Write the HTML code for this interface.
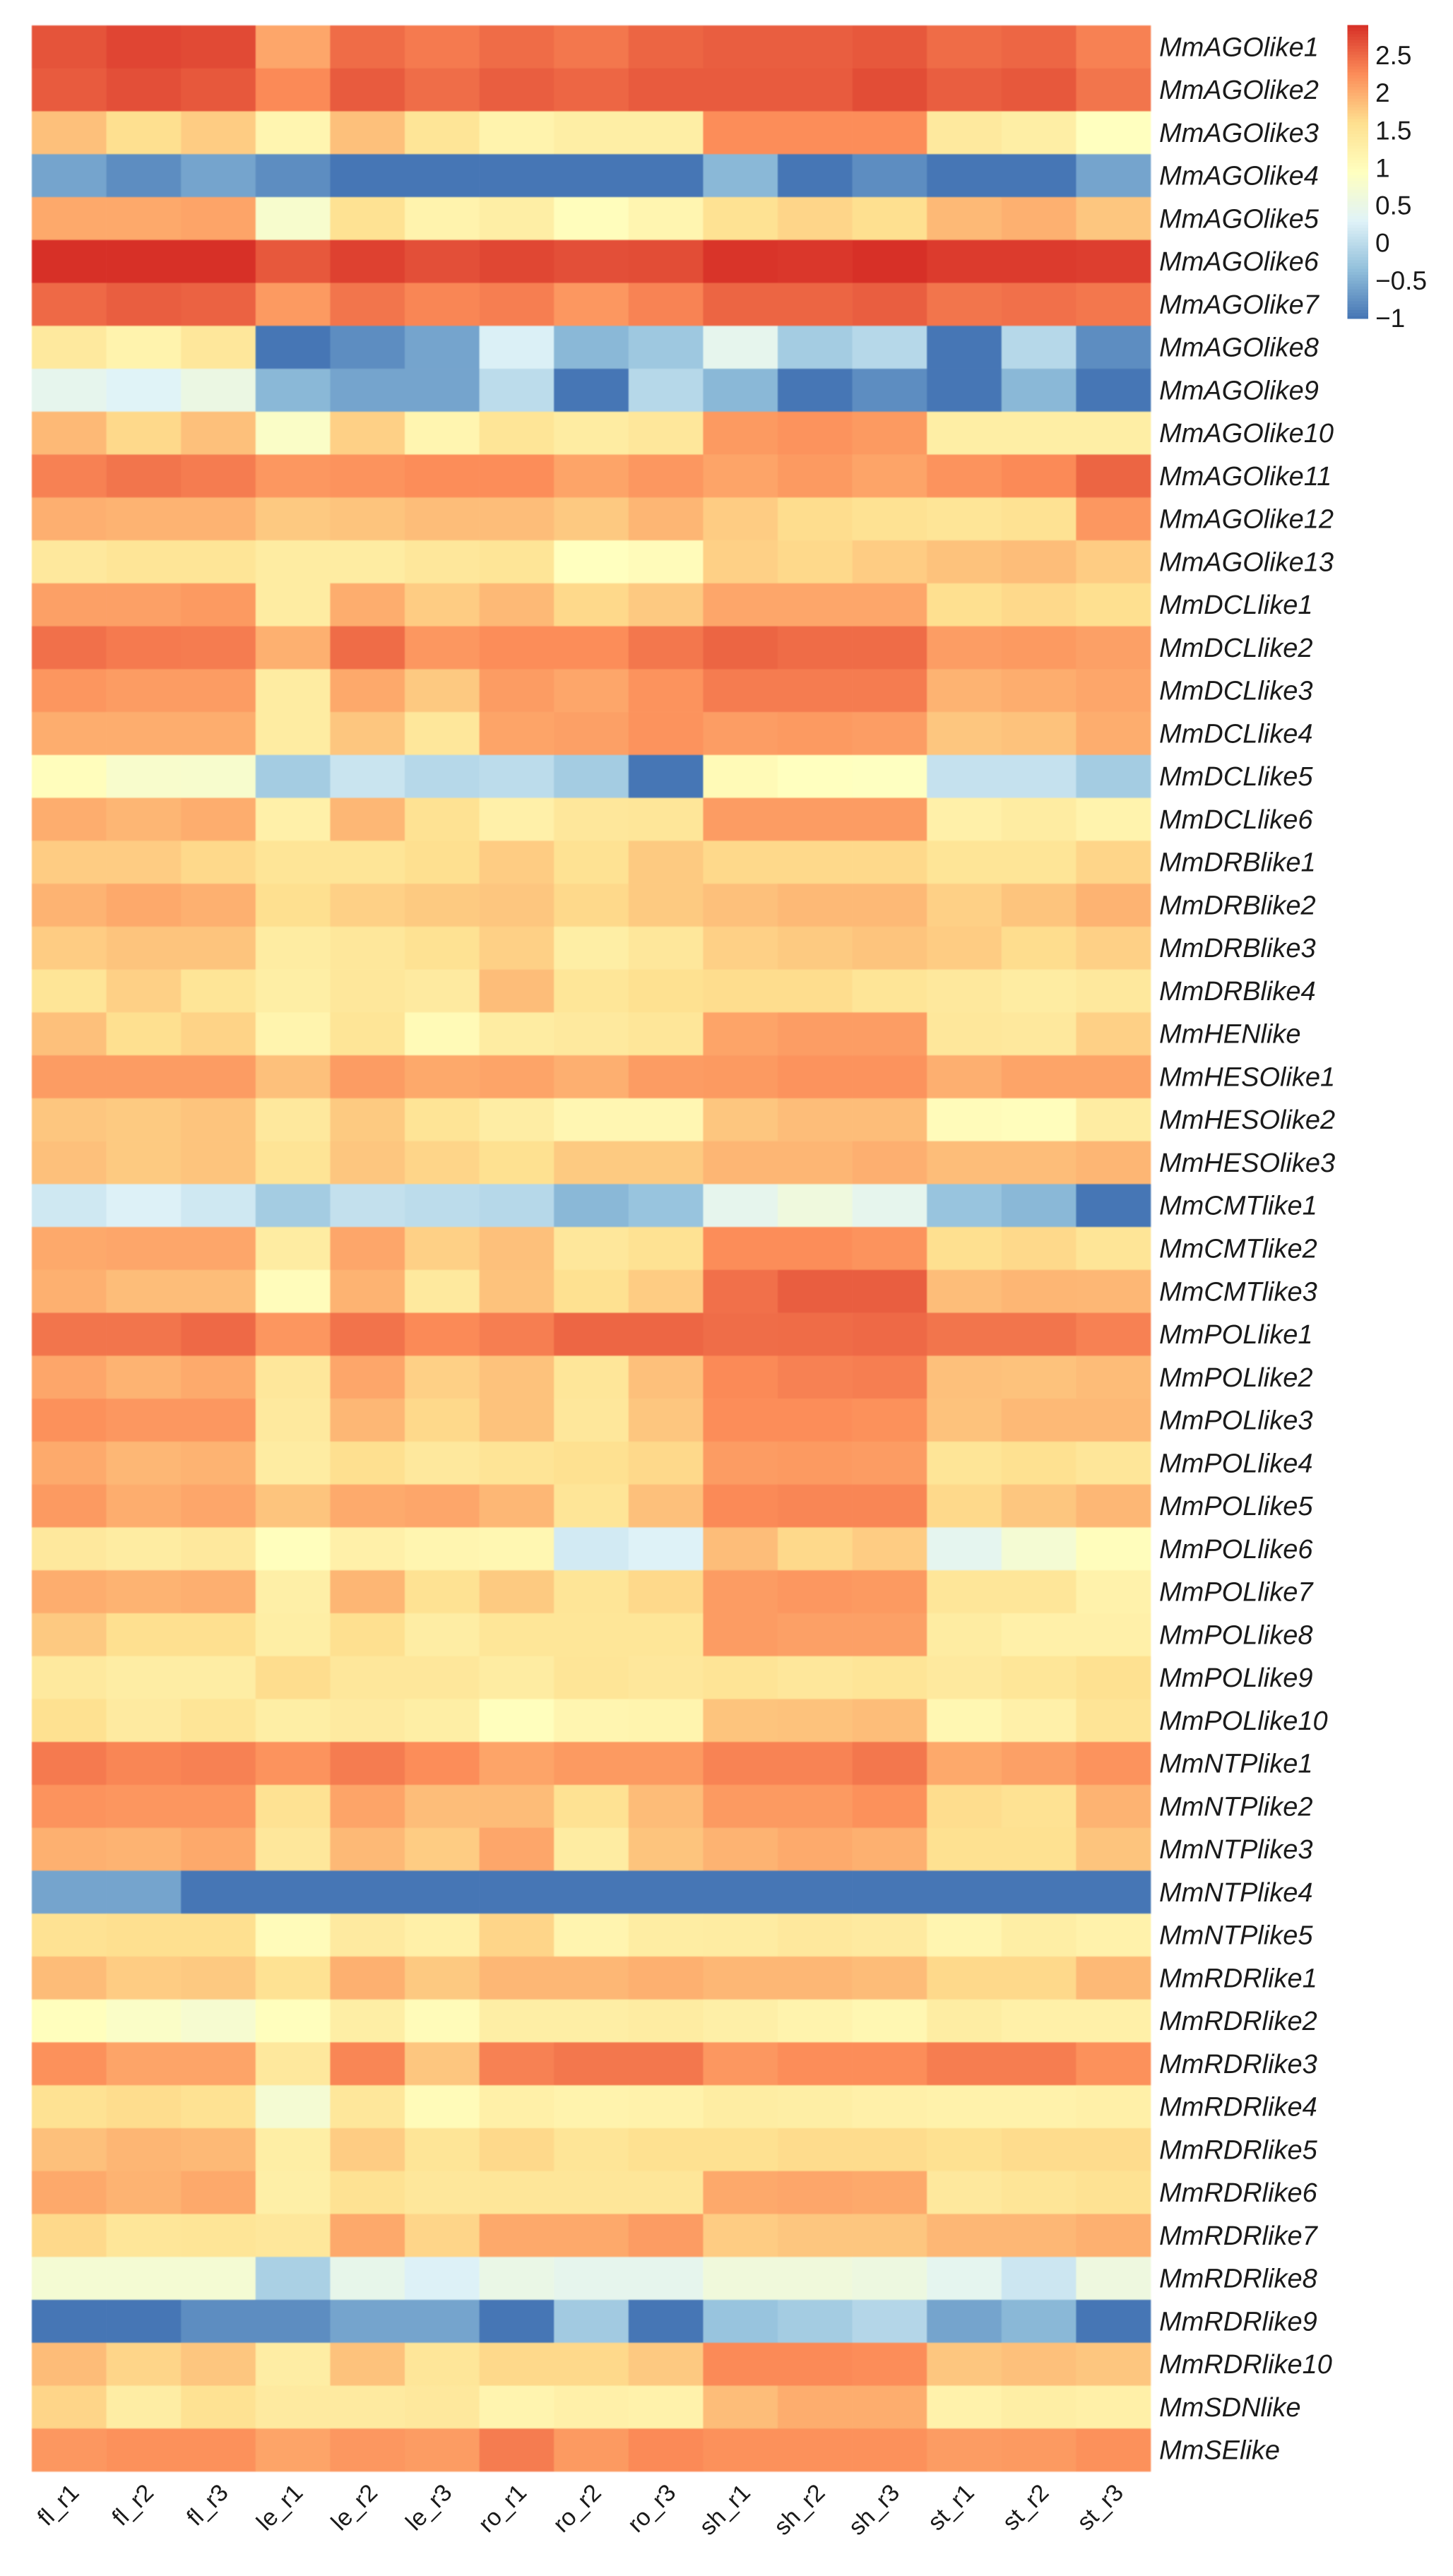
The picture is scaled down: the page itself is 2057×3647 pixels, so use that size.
<!DOCTYPE html>
<html lang="en">
<head>
<meta charset="utf-8">
<title>MmRNAi gene expression heatmap</title>
<style>
html,body{margin:0;padding:0;background:#fff;width:2057px;height:3647px;overflow:hidden}
svg{display:block}
text{font-family:"Liberation Sans",Arial,sans-serif;fill:#1a1a1a}
</style>
</head>
<body>
<svg id="chart" xmlns="http://www.w3.org/2000/svg" width="2057" height="3647" viewBox="0 0 2057 3647">
<rect width="2057" height="3647" fill="#fff"/>
<g id="cells" style="filter:blur(0.7px)"></g>
<g id="rowLabelsG"></g>
<g id="colLabelsG"></g>
<g id="legendG"></g>
</svg>
<script>
const columnLabels = ["fl_r1","fl_r2","fl_r3","le_r1","le_r2","le_r3","ro_r1","ro_r2","ro_r3","sh_r1","sh_r2","sh_r3","st_r1","st_r2","st_r3"];
const rowLabels = ["MmAGOlike1","MmAGOlike2","MmAGOlike3","MmAGOlike4","MmAGOlike5","MmAGOlike6","MmAGOlike7","MmAGOlike8","MmAGOlike9","MmAGOlike10","MmAGOlike11","MmAGOlike12","MmAGOlike13","MmDCLlike1","MmDCLlike2","MmDCLlike3","MmDCLlike4","MmDCLlike5","MmDCLlike6","MmDRBlike1","MmDRBlike2","MmDRBlike3","MmDRBlike4","MmHENlike","MmHESOlike1","MmHESOlike2","MmHESOlike3","MmCMTlike1","MmCMTlike2","MmCMTlike3","MmPOLlike1","MmPOLlike2","MmPOLlike3","MmPOLlike4","MmPOLlike5","MmPOLlike6","MmPOLlike7","MmPOLlike8","MmPOLlike9","MmPOLlike10","MmNTPlike1","MmNTPlike2","MmNTPlike3","MmNTPlike4","MmNTPlike5","MmRDRlike1","MmRDRlike2","MmRDRlike3","MmRDRlike4","MmRDRlike5","MmRDRlike6","MmRDRlike7","MmRDRlike8","MmRDRlike9","MmRDRlike10","MmSDNlike","MmSElike"];
const legendTicks = [2.5,2,1.5,1,0.5,0,-0.5,-1];
const legendTickLabels = ["2.5","2","1.5","1","0.5","0","\u22120.5","\u22121"];
const legendMin = -1.01;
const legendMax = 2.9;
const paletteStops = ["#4575B4","#91BFDB","#E0F3F8","#FFFFBF","#FEE090","#FC8D59","#D73027"];

const valuesAGO = [
[2.65,2.75,2.72,2.05,2.48,2.38,2.48,2.4,2.53,2.58,2.58,2.62,2.48,2.52,2.33],
[2.6,2.68,2.62,2.27,2.6,2.47,2.58,2.52,2.6,2.6,2.6,2.7,2.58,2.62,2.42],
[1.85,1.6,1.75,1.15,1.85,1.5,1.2,1.3,1.3,2.25,2.25,2.25,1.4,1.3,0.95],
[-0.6,-0.8,-0.6,-0.8,-1,-1,-1,-1,-1,-0.42,-1,-0.8,-1,-1,-0.6],
[2.03,2.03,2.07,0.78,1.55,1.2,1.3,0.98,1.15,1.55,1.68,1.6,1.9,1.97,1.8],
[2.9,2.9,2.9,2.62,2.78,2.68,2.74,2.68,2.7,2.87,2.85,2.9,2.82,2.82,2.8],
[2.5,2.58,2.55,2.15,2.42,2.3,2.35,2.17,2.32,2.53,2.53,2.58,2.42,2.45,2.4],
[1.4,1.2,1.45,-1,-0.8,-0.6,0.25,-0.42,-0.25,0.42,-0.2,-0.05,-1,-0.05,-0.8],
[0.42,0.3,0.53,-0.42,-0.6,-0.6,0,-1,-0.05,-0.42,-1,-0.8,-1,-0.42,-1],
[1.9,1.65,1.85,0.85,1.72,1.15,1.5,1.35,1.45,2.15,2.2,2.15,1.3,1.3,1.3],
[2.33,2.42,2.37,2.17,2.2,2.25,2.25,2.07,2.17,2.07,2.15,2.07,2.2,2.27,2.53],
[1.98,1.95,1.95,1.78,1.82,1.87,1.87,1.78,1.93,1.75,1.62,1.55,1.5,1.55,2.17],
[1.42,1.5,1.5,1.35,1.35,1.45,1.5,0.95,1.02,1.72,1.65,1.75,1.83,1.87,1.75]
];
const valuesDCL = [
[2.1,2.1,2.15,1.35,2,1.75,1.9,1.65,1.78,2.05,2.05,2.05,1.6,1.65,1.6],
[2.45,2.38,2.37,1.97,2.48,2.17,2.25,2.25,2.4,2.53,2.48,2.48,2.12,2.15,2.1],
[2.18,2.13,2.13,1.35,2.03,1.78,2.13,2.05,2.2,2.37,2.37,2.37,1.95,2,2.05],
[2,2,2,1.35,1.8,1.45,2.07,2.1,2.2,2.12,2.15,2.12,1.8,1.83,2],
[0.98,0.8,0.78,-0.2,0.1,-0.05,0,-0.2,-1,1.05,0.95,0.92,0.07,0.07,-0.2],
[2,1.93,2,1.25,1.92,1.55,1.25,1.45,1.47,2.13,2.13,2.13,1.25,1.35,1.2]
];
const valuesDRB = [
[1.75,1.75,1.65,1.5,1.5,1.6,1.75,1.55,1.77,1.65,1.65,1.65,1.5,1.5,1.68],
[1.95,2.03,1.97,1.6,1.72,1.77,1.8,1.65,1.77,1.85,1.9,1.9,1.72,1.82,1.95],
[1.75,1.82,1.82,1.35,1.45,1.55,1.72,1.3,1.45,1.72,1.77,1.82,1.75,1.62,1.72],
[1.5,1.72,1.5,1.3,1.45,1.38,1.87,1.48,1.58,1.62,1.62,1.5,1.42,1.35,1.42]
];
const valuesHEN = [
[1.85,1.6,1.7,1.18,1.5,1.05,1.35,1.4,1.47,2.07,2.12,2.12,1.45,1.42,1.72]
];
const valuesHESO = [
[2.13,2.13,2.13,1.85,2.13,2.03,2.07,1.98,2.13,2.15,2.2,2.2,1.98,2.07,2.07],
[1.8,1.77,1.82,1.42,1.77,1.52,1.32,1.13,1.13,1.8,1.87,1.87,1.02,0.98,1.35],
[1.85,1.77,1.82,1.52,1.8,1.68,1.58,1.77,1.77,1.93,1.93,1.98,1.87,1.87,1.93]
];
const valuesCMT = [
[0.15,0.27,0.15,-0.2,0.05,0,-0.05,-0.42,-0.3,0.42,0.6,0.42,-0.3,-0.42,-1],
[2.03,2.05,2.05,1.35,2.05,1.72,1.85,1.45,1.55,2.25,2.25,2.2,1.6,1.65,1.5],
[1.97,1.87,1.87,1,1.95,1.4,1.83,1.58,1.75,2.45,2.58,2.58,1.87,1.93,1.92]
];
const valuesPOL = [
[2.42,2.42,2.5,2.18,2.43,2.27,2.35,2.52,2.52,2.47,2.48,2.5,2.42,2.42,2.33],
[2.05,1.95,2.02,1.45,2.05,1.72,1.83,1.47,1.85,2.27,2.33,2.35,1.85,1.83,1.88],
[2.22,2.17,2.17,1.4,1.92,1.65,1.83,1.45,1.8,2.25,2.25,2.22,1.83,1.9,1.9],
[2.02,1.92,1.95,1.35,1.6,1.42,1.52,1.58,1.65,2.13,2.15,2.13,1.5,1.58,1.47],
[2.15,2,2.05,1.82,2.02,2.05,1.92,1.5,1.85,2.27,2.3,2.3,1.65,1.8,1.92],
[1.42,1.35,1.42,0.97,1.25,1.15,1.12,0.18,0.28,1.87,1.65,1.75,0.4,0.72,0.98],
[2,1.95,1.98,1.28,1.93,1.55,1.77,1.5,1.65,2.13,2.17,2.15,1.47,1.47,1.22],
[1.78,1.6,1.6,1.3,1.6,1.32,1.48,1.48,1.48,2.13,2.1,2.1,1.35,1.25,1.25],
[1.4,1.32,1.32,1.62,1.45,1.45,1.35,1.5,1.45,1.52,1.45,1.5,1.4,1.48,1.58],
[1.58,1.38,1.5,1.3,1.38,1.3,0.97,1.15,1.18,1.82,1.83,1.87,1.12,1.25,1.52]
];
const valuesNTP = [
[2.38,2.3,2.33,2.2,2.37,2.25,2.07,2.15,2.15,2.32,2.32,2.4,2.03,2.1,2.2],
[2.2,2.18,2.18,1.55,2.07,1.87,1.88,1.55,1.88,2.15,2.15,2.22,1.62,1.55,1.95],
[1.97,1.95,2.03,1.45,1.9,1.75,2.05,1.35,1.82,1.95,2.02,1.97,1.58,1.58,1.82],
[-0.6,-0.6,-1,-1,-1,-1,-1,-1,-1,-1,-1,-1,-1,-1,-1],
[1.55,1.6,1.6,1.02,1.38,1.27,1.68,1.17,1.33,1.35,1.42,1.38,1.15,1.3,1.22]
];
const valuesRDR = [
[1.88,1.75,1.78,1.55,1.97,1.78,1.92,1.92,1.97,1.92,1.92,1.88,1.65,1.65,1.9],
[0.97,0.85,0.75,0.97,1.3,1.03,1.3,1.3,1.35,1.28,1.2,1.12,1.33,1.27,1.27],
[2.22,2.07,2.07,1.42,2.3,1.8,2.33,2.4,2.4,2.17,2.25,2.25,2.36,2.36,2.22],
[1.55,1.62,1.55,0.72,1.45,1.03,1.27,1.2,1.22,1.33,1.3,1.25,1.22,1.22,1.27],
[1.85,1.93,1.9,1.3,1.75,1.5,1.65,1.5,1.58,1.58,1.63,1.63,1.58,1.63,1.63],
[2.03,1.95,2.03,1.28,1.55,1.45,1.47,1.47,1.47,2.03,2.05,2.03,1.42,1.5,1.55],
[1.65,1.47,1.5,1.45,2.03,1.68,2.03,2.03,2.13,1.75,1.8,1.8,1.92,1.92,1.97],
[0.72,0.72,0.72,-0.15,0.45,0.27,0.5,0.42,0.42,0.62,0.62,0.57,0.4,0.13,0.58],
[-1,-1,-0.8,-0.8,-0.6,-0.6,-1,-0.22,-1,-0.3,-0.2,-0.07,-0.6,-0.42,-1],
[1.88,1.68,1.8,1.32,1.83,1.47,1.65,1.65,1.78,2.27,2.27,2.25,1.8,1.85,1.8]
];
const valuesSDN = [
[1.68,1.32,1.55,1.38,1.38,1.42,1.17,1.25,1.22,1.87,2,2,1.22,1.3,1.27]
];
const valuesSE = [
[2.17,2.22,2.22,2.07,2.17,2.13,2.37,2.15,2.27,2.22,2.22,2.22,2.13,2.15,2.22]
];
const heatValues = [].concat(valuesAGO,valuesDCL,valuesDRB,valuesHEN,valuesHESO,valuesCMT,valuesPOL,valuesNTP,valuesRDR,valuesSDN,valuesSE);

const NS = "http://www.w3.org/2000/svg";
const plotLeft = 45, plotRight = 1629, plotTop = 36, plotBottom = 3499;
const legendLeft = 1907.5, legendRight = 1937, legendTop = 36;
const xScale = i => plotLeft + i * (plotRight - plotLeft) / columnLabels.length;
const yScale = i => plotTop + i * (plotBottom - plotTop) / rowLabels.length;
const legendY = v => 450 - (v + 1) * 106.3;

function hexToRgb(h){ return [1,3,5].map(k => parseInt(h.substr(k,2),16)); }
function colorFor(v){
  const t = Math.max(0, Math.min(1, (v - legendMin) / (legendMax - legendMin))) * (paletteStops.length - 1);
  const i = Math.min(paletteStops.length - 2, Math.floor(t));
  const a = hexToRgb(paletteStops[i]), b = hexToRgb(paletteStops[i + 1]), f = t - i;
  const c = a.map((x, k) => Math.round(x + (b[k] - x) * f));
  return "rgb(" + c.join(",") + ")";
}
function make(tag, attrs, parent){
  const el = document.createElementNS(NS, tag);
  for (const k in attrs) el.setAttribute(k, attrs[k]);
  parent.appendChild(el);
  return el;
}

const cellsG = document.getElementById("cells");
const rowG = document.getElementById("rowLabelsG");
const colG = document.getElementById("colLabelsG");
const legG = document.getElementById("legendG");

heatValues.forEach((row, r) => {
  row.forEach((v, c) => {
    const cell = make("rect", {x: xScale(c), y: yScale(r), width: xScale(c + 1) - xScale(c) + 0.3, height: yScale(r + 1) - yScale(r) + 0.3, fill: colorFor(v)}, cellsG);
    
    
  });
});

rowLabels.forEach((name, r) => {
  const t = make("text", {x: 1641, y: (yScale(r) + yScale(r + 1)) / 2 + 13, "font-size": 38, "font-style": "italic"}, rowG);
  t.textContent = name;
  
  
});

columnLabels.forEach((name, c) => {
  const ex = (xScale(c) + xScale(c + 1)) / 2 + 16, ey = 3531;
  const t = make("text", {x: ex, y: ey, "font-size": 34, "text-anchor": "end", transform: "rotate(-45 " + ex + " " + ey + ")"}, colG);
  t.textContent = name;
  
  
});

const legendSteps = 100;
for (let i = 0; i < legendSteps; i++) {
  const v = legendMin + (legendMax - legendMin) * (i + 0.5) / legendSteps;
  const y0 = legendY(legendMin + (legendMax - legendMin) * (i + 1) / legendSteps);
  const y1 = legendY(legendMin + (legendMax - legendMin) * i / legendSteps);
  const s = make("rect", {x: legendLeft, y: y0, width: legendRight - legendLeft, height: y1 - y0 + 0.4, fill: colorFor(v)}, legG);
  
  
}
legendTicks.forEach((v, i) => {
  const t = make("text", {x: 1947, y: legendY(v) + 13, "font-size": 37}, legG);
  t.textContent = legendTickLabels[i];
  
  
});
</script>
</body>
</html>
